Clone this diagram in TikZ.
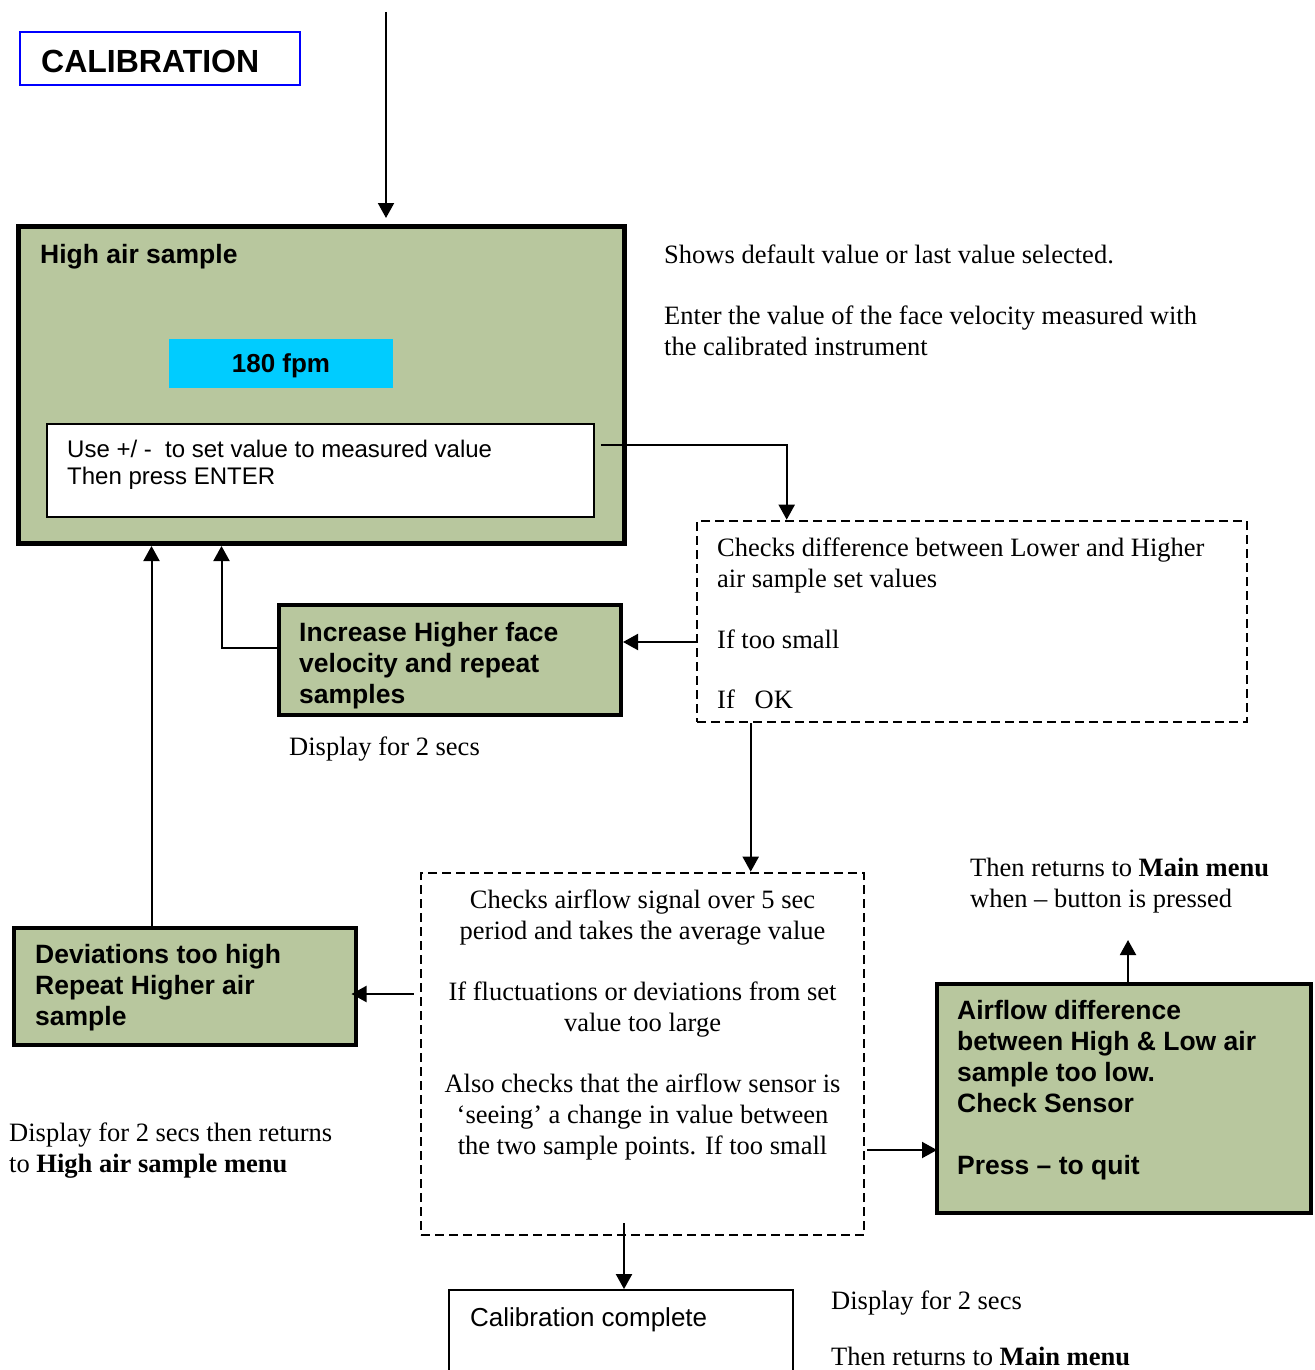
\documentclass[tikz,border=0pt]{standalone}
\usepackage{fontspec}
\setmainfont{Liberation Serif}
\setsansfont{Liberation Sans}
\usetikzlibrary{arrows.meta,calc}
\definecolor{boxgreen}{RGB}{184,199,158}
\definecolor{fpmcyan}{RGB}{0,204,255}
\definecolor{calblue}{RGB}{0,0,255}
\tikzset{
  greenbox/.style={draw=black, fill=boxgreen, line width=4pt, inner sep=0pt},
  dashbox/.style={draw=black, line width=2.6pt, dash pattern=on 9pt off 5pt, inner sep=0pt},
  plainbox/.style={draw=black, line width=1.8pt, fill=white, inner sep=0pt},
  arr/.style={line width=2pt, -{Triangle[length=15pt,width=16pt]}},
  serif/.style={font=\fontsize{26.5}{31}\selectfont, inner sep=0pt, align=left, anchor=north west},
  serifc/.style={font=\fontsize{26.5}{31}\selectfont, inner sep=0pt, align=center, anchor=north},
  sansb/.style={font=\fontsize{26.5}{31}\selectfont\sffamily\bfseries, inner sep=0pt, align=left, anchor=north west},
  sansr/.style={font=\fontsize{24}{27}\selectfont\sffamily, inner sep=0pt, align=left, anchor=north west},
}
\begin{document}
\begin{tikzpicture}[x=1pt,y=-1pt]
\useasboundingbox (0,0) rectangle (1314,1370);
\clip (0,0) rectangle (1314,1370);

% title
\node[draw=calblue, line width=1.8pt, inner sep=0pt, minimum width=280pt, minimum height=53pt] (titlebox) at (160,58.5) {};
\node[font=\fontsize{32}{36}\selectfont\sffamily\bfseries, inner sep=0pt, anchor=base west] (title) at (41,73) {CALIBRATION};

% High air sample box
\node[greenbox, line width=5pt, minimum width=605.5pt, minimum height=317pt] (high) at (321.25,385) {};
\node[sansb] (hightxt) at (40,241.3) {\strut High air sample};
\node[fill=fpmcyan, inner sep=0pt, minimum width=224pt, minimum height=49pt, text height=18.6pt, text depth=0pt, font=\fontsize{26}{31}\selectfont\sffamily\bfseries] (fpm) at (281,363) {180 fpm};
\node[plainbox, minimum width=547pt, minimum height=93pt] (white) at (320.5,470.5) {};
\node[sansr] (whitetxt) at (67,438.6) {\strut Use +/ -\ \ to set value to measured value\\Then press ENTER};

% right notes
\node[serif] (note1) at (664,241.3) {\strut Shows default value or last value selected.};
\node[serif] (note2) at (664,302.3) {\strut Enter the value of the face velocity measured with\\the calibrated instrument};

% check 1
\node[dashbox, minimum width=550pt, minimum height=201pt] (chk1) at (972,621.5) {};
\node[serif] (chk1txt) at (717,534.3) {\strut Checks difference between Lower and Higher\\air sample set values\\[30pt]If too small\\[29pt]If\ \ \ OK};

% increase box
\node[greenbox, minimum width=342pt, minimum height=110pt] (increase) at (450,660) {};
\node[sansb] (inctxt) at (299,619.3) {\strut Increase Higher face\\velocity and repeat\\samples};
\node[serif] (disp1) at (289,733.3) {\strut Display for 2 secs};

% check 2
\node[dashbox, minimum width=443pt, minimum height=362pt] (chk2) at (642.5,1054) {};
\node[serifc] (chk2txt) at (642.5,886.3) {\strut Checks airflow signal over 5 sec\\period and takes the average value\\[30pt]If fluctuations or deviations from set\\value too large\\[30pt]Also checks that the airflow sensor is\\‘seeing’ a change in value between\\the two sample points. If too small};

% deviations box
\node[greenbox, minimum width=342pt, minimum height=117pt] (dev) at (184.5,986) {};
\node[sansb] (devtxt) at (35,941.3) {\strut Deviations too high\\Repeat Higher air\\sample};
\node[serif] (disp2) at (9,1119.3) {\strut Display for 2 secs then returns\\to \textbf{High air sample menu}};

% airflow box
\node[greenbox, minimum width=374pt, minimum height=229pt] (airflow) at (1124,1098.5) {};
\node[sansb] (airtxt) at (957,997.3) {\strut Airflow difference\\between High \& Low air\\sample too low.\\Check Sensor\\[31pt]Press – to quit};
\node[serif] (note3) at (970,854.3) {\strut Then returns to \textbf{Main menu}\\when – button is pressed};
\coordinate (upend) at (1128,940);

% calibration complete
\node[plainbox, minimum width=344pt, minimum height=110pt] (calib) at (621,1345) {};
\node[font=\fontsize{26}{31}\selectfont\sffamily, inner sep=0pt, anchor=base west] (calibtxt) at (470,1326) {Calibration complete};
\node[serif] (note4) at (831,1287.3) {\strut Display for 2 secs\\[25pt]Then returns to \textbf{Main menu}};

% connectors
\coordinate (topstart) at (386,12);
\draw[arr] (topstart) -- ([yshift=6pt]topstart |- high.north);
\draw[arr] ([xshift=6pt,yshift=-22pt]white.north east) -| ([xshift=91pt]chk1.north west);
\draw[arr] ([yshift=-20.5pt]chk1.west) -- ([yshift=-20.5pt]chk1.west -| increase.east);
\draw[arr] ([yshift=12pt]increase.west) -| ([xshift=205.5pt]high.south west);
\draw[arr] ([xshift=55pt]chk1.south west) -- ([xshift=55pt]chk1.south west |- chk2.north);
\draw[arr] ([xshift=-6pt,yshift=60pt]chk2.west) -- ([xshift=-6pt,yshift=60pt]chk2.west -| dev.east);
\draw[arr] ([xshift=140pt]dev.north west) -- ([xshift=140pt]dev.north west |- high.south);
\draw[arr] ([xshift=2pt,yshift=-96pt]chk2.east) -- ([xshift=2pt,yshift=-96pt]chk2.east -| airflow.west);
\draw[arr] (airflow.north -| upend) -- (upend);
\draw[arr] ([xshift=-18.5pt,yshift=13pt]chk2.south) -- ([xshift=-18.5pt]chk2.south |- calib.north);
\end{tikzpicture}
\end{document}
